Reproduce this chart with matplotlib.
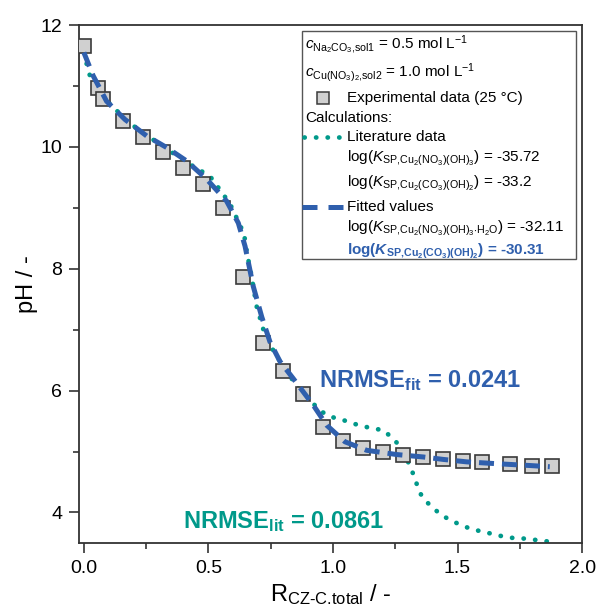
import matplotlib
matplotlib.use("Agg")
import matplotlib.pyplot as plt
from matplotlib.patches import Rectangle
from matplotlib.lines import Line2D
from matplotlib.ticker import MultipleLocator

plt.rcParams['font.family'] = ['Liberation Sans', 'DejaVu Sans']
plt.rcParams['mathtext.fontset'] = 'custom'
plt.rcParams['mathtext.rm'] = 'Liberation Sans'
plt.rcParams['mathtext.it'] = 'Liberation Sans:italic'
plt.rcParams['mathtext.bf'] = 'Liberation Sans:bold'
plt.rcParams['mathtext.bfit'] = 'Liberation Sans:italic:bold'

# ---- data ----
exp_x = [0.0, 0.055, 0.078, 0.158, 0.238, 0.318, 0.399, 0.479, 0.559, 0.64,
         0.72, 0.80, 0.878, 0.958, 1.039, 1.119, 1.20, 1.28, 1.36, 1.44,
         1.52, 1.597, 1.711, 1.798, 1.878]
exp_ph = [11.66, 10.96, 10.78, 10.43, 10.17, 9.91, 9.65, 9.39, 9.00, 7.86,
          6.78, 6.32, 5.94, 5.40, 5.17, 5.06, 4.99, 4.95, 4.91, 4.87,
          4.84, 4.82, 4.79, 4.77, 4.76]

fit_x = [0.0, 0.037, 0.091, 0.165, 0.252, 0.332, 0.412, 0.493, 0.573, 0.62,
         0.647, 0.68, 0.714, 0.747, 0.787, 0.84, 0.921, 0.975, 1.048, 1.135,
         1.256, 1.363, 1.443, 1.537, 1.657, 1.79, 1.87]
fit_ph = [11.55, 11.17, 10.75, 10.45, 10.18, 9.99, 9.77, 9.47, 9.11, 8.75,
          8.37, 7.71, 7.21, 6.80, 6.48, 6.20, 5.76, 5.43, 5.16, 5.02,
          4.95, 4.91, 4.87, 4.83, 4.80, 4.77, 4.75]

lit_x = [0.0, 0.021, 0.064, 0.122, 0.215, 0.292, 0.361, 0.439, 0.506, 0.533,
         0.586, 0.624, 0.643, 0.656, 0.673, 0.693, 0.727, 0.767, 0.80, 0.867,
         0.952, 0.99, 1.032, 1.072, 1.115, 1.158, 1.202, 1.233, 1.262, 1.289,
         1.32, 1.349, 1.369, 1.40, 1.434, 1.473, 1.51, 1.553, 1.594, 1.637,
         1.678, 1.724, 1.771, 1.811, 1.87]
lit_ph = [11.55, 11.2, 10.88, 10.63, 10.29, 10.08, 9.89, 9.68, 9.52, 9.37,
          9.07, 8.74, 8.57, 8.23, 7.88, 7.39, 6.91, 6.61, 6.40, 6.0,
          5.66, 5.57, 5.53, 5.47, 5.42, 5.38, 5.35, 5.24, 5.12, 4.95,
          4.65, 4.32, 4.20, 4.08, 3.96, 3.87, 3.80, 3.73, 3.69, 3.65,
          3.61, 3.58, 3.57, 3.55, 3.52]

x_ticks = [0.0, 0.5, 1.0, 1.5, 2.0]
y_ticks = [4, 6, 8, 10, 12]

BLUE = '#2F5FAD'
TEAL = '#00998A'

fig = plt.figure(figsize=(6.02, 6.10), dpi=100)
ax = fig.add_axes([0.131, 0.110, 0.836, 0.849])

ax.plot(lit_x, lit_ph, color=TEAL, lw=3.4, linestyle=(0, (0.05, 2.4)),
        dash_capstyle='round', zorder=2)
ax.plot(exp_x, exp_ph, linestyle='none', marker='s', ms=10.5,
        mfc='#D0D0D0', mec='#3A3A3A', mew=1.2, zorder=3)
ax.plot(fit_x, fit_ph, color=BLUE, lw=3.6, linestyle=(0, (3.0, 1.6)),
        zorder=4)

ax.set_xlim(-0.02, 2.0)
ax.set_ylim(3.5, 12)
ax.set_xticks(x_ticks)
ax.set_yticks(y_ticks)
ax.set_xticklabels([f"{v:.1f}" for v in x_ticks])
ax.xaxis.set_minor_locator(MultipleLocator(0.25))
ax.yaxis.set_minor_locator(MultipleLocator(1))
ax.tick_params(which='major', length=7, width=1.2, labelsize=14, color='#333333', pad=5)
ax.tick_params(which='minor', length=4, width=1.2, color='#333333')
for s in ax.spines.values():
    s.set_linewidth(1.3)
    s.set_color('#333333')

ax.set_ylabel('pH / -', fontsize=17, labelpad=2)
ax.set_xlabel(r'R$_{\text{CZ-C.total}}$ / -', fontsize=17, labelpad=4)

# NRMSE annotations
ax.text(0.944, 6.06, r'NRMSE$_{\mathbf{fit}}$ = 0.0241', color=BLUE, fontsize=17,
        fontweight='bold')
ax.text(0.398, 3.75, r'NRMSE$_{\mathbf{lit}}$ = 0.0861', color=TEAL, fontsize=17,
        fontweight='bold')

# manual legend box
ax_l, ax_r, ax_t, ax_b = 79, 582, 25, 543
def ax_xy(px, py):
    return ((px - ax_l) / (ax_r - ax_l), (ax_b - py) / (ax_b - ax_t))

x0, y0 = ax_xy(302, 259)
x1, y1 = ax_xy(576, 31)
ax.add_patch(Rectangle((x0, y0), x1 - x0, y1 - y0, transform=ax.transAxes,
                       facecolor='white', edgecolor='#555555', lw=1.0, zorder=5))

fs = 11
rows = [
    (305, 45, r'$\mathit{c}_{\mathrm{Na_2CO_3{,}sol1}}$ = 0.5 mol L$^{-1}$', 'black', 'normal'),
    (305, 73, r'$\mathit{c}_{\mathrm{Cu(NO_3)_2{,}sol2}}$ = 1.0 mol L$^{-1}$', 'black', 'normal'),
    (347, 98, 'Experimental data (25 °C)', 'black', 'normal'),
    (305, 118, 'Calculations:', 'black', 'normal'),
    (347, 137, 'Literature data', 'black', 'normal'),
    (347, 158, r'log($\mathit{K}_{\mathrm{SP{,}Cu_2(NO_3)(OH)_3}}$) = -35.72', 'black', 'normal'),
    (347, 183, r'log($\mathit{K}_{\mathrm{SP{,}Cu_2(CO_3)(OH)_2}}$) = -33.2', 'black', 'normal'),
    (347, 207, 'Fitted values', 'black', 'normal'),
    (347, 228, r'log($\mathit{K}_{\mathrm{SP{,}Cu_2(NO_3)(OH)_3{\cdot}H_2O}}$) = -32.11', 'black', 'normal'),
    (347, 251, r'log($\mathbfit{K}_{\mathbf{SP{,}Cu_2(CO_3)(OH)_2}}$) = -30.31', BLUE, 'bold'),
]
for px, py, txt, col, fw in rows:
    tx, ty = ax_xy(px, py)
    ax.text(tx, ty, txt, transform=ax.transAxes, fontsize=fs, color=col,
            fontweight=fw, va='center', ha='left', zorder=6)

# legend handles
sx, sy = ax_xy(323, 98)
ax.add_line(Line2D([sx], [sy], transform=ax.transAxes, linestyle='none', marker='s',
                   ms=9, mfc='#D0D0D0', mec='#3A3A3A', mew=1.1, zorder=6, clip_on=False))
lx0, ly = ax_xy(304, 137)
lx1, _ = ax_xy(340, 137)
ax.add_line(Line2D([lx0, lx1], [ly, ly], transform=ax.transAxes, color=TEAL, lw=3.4,
                   linestyle=(0, (0.05, 2.4)), dash_capstyle='round', zorder=6, clip_on=False))
bx0, by = ax_xy(302, 207)
bx1, _ = ax_xy(343, 207)
ax.add_line(Line2D([bx0, bx1], [by, by], transform=ax.transAxes, color=BLUE, lw=3.6,
                   linestyle=(0, (3.0, 2.2)), zorder=6, clip_on=False))

fig.savefig('out.png', dpi=100)
